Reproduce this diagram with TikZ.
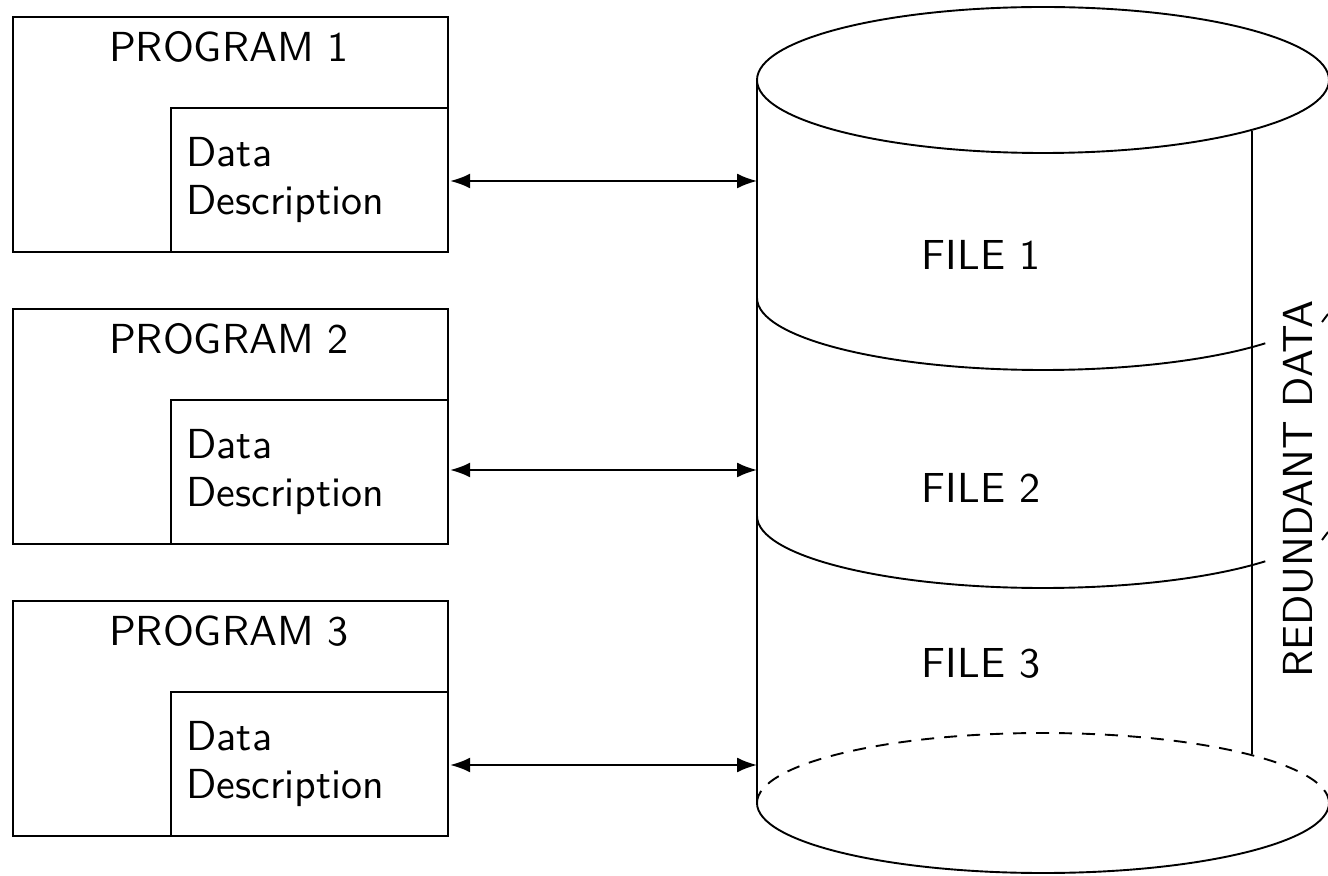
\documentclass[tikz,border=0pt]{standalone}
\usepackage{fontspec}
\setsansfont{lmsans10-regular.otf}
\usetikzlibrary{arrows.meta}
\begin{document}
\begin{tikzpicture}[x=0.5pt,y=-0.5pt,
  progbox/.style={draw, line width=1pt, minimum width=217.5pt, minimum height=117.5pt, inner sep=0pt, anchor=north west},
  descbox/.style={draw, line width=1pt, minimum width=138.5pt, minimum height=72pt, inner sep=0pt, anchor=north west},
  lbl/.style={font=\sffamily\fontsize{21}{24}\selectfont, inner sep=0pt},
  link/.style={line width=1pt, {Latex[length=10pt,width=7.5pt]}-{Latex[length=10pt,width=7.5pt]}, shorten <=0.6pt},
  cyl/.style={line width=0.95pt},
]
\useasboundingbox (0,0) rectangle (1328,876);
\clip (0,0) rectangle (1328,876);

% programs
\node[progbox] (p1) at (12,16) {};
\node[descbox] (d1) at (170,107) {};
\node[progbox] (p2) at (12,308) {};
\node[descbox] (d2) at (170,399) {};
\node[progbox] (p3) at (12,600) {};
\node[descbox] (d3) at (170,691) {};

\node[lbl, anchor=base] (t1) at (229,62) {PROGRAM 1};
\node[lbl, anchor=base] (t2) at (229,354) {PROGRAM 2};
\node[lbl, anchor=base] (t3) at (229,646) {PROGRAM 3};

\node[lbl, anchor=north west, align=left] (x1) at (186,137) {Data\\Description};
\node[lbl, anchor=north west, align=left] (x2) at (186,429) {Data\\Description};
\node[lbl, anchor=north west, align=left] (x3) at (186,721) {Data\\Description};

% cylinder
\coordinate (topc) at (1043,80);
\coordinate (cl1) at (757,181);
\coordinate (cl2) at (757,470);
\coordinate (cl3) at (757,765);
\draw[cyl] (topc) ellipse [x radius=143pt, y radius=36.5pt];
\draw[cyl] (757,80) -- (757,803);
\draw[cyl] (1252,131) -- (1252,754);
\draw[cyl] (757,298) arc[start angle=180, end angle=321, x radius=143pt, y radius=36pt];
\draw[cyl] (757,516) arc[start angle=180, end angle=321, x radius=143pt, y radius=36pt];
\draw[cyl, dash pattern=on 6.5pt off 5pt] (757,803) arc[start angle=180, end angle=0, x radius=143pt, y radius=35pt];
\draw[cyl] (757,803) arc[start angle=180, end angle=360, x radius=143pt, y radius=35pt];
\draw[cyl] (1322,322) -- (1328,314);
\draw[cyl] (1322,540) -- (1328,532);

\node[lbl, anchor=base] (f1) at (981,270) {FILE 1};
\node[lbl, anchor=base] (f2) at (981,503) {FILE 2};
\node[lbl, anchor=base] (f3) at (981,677) {FILE 3};
\node[lbl, rotate=90, anchor=base] (rd) at (1312,489) {REDUNDANT DATA};

% connectors
\draw[link] (d1.east |- cl1) -- (cl1);
\draw[link] (d2.east |- cl2) -- (cl2);
\draw[link] (d3.east |- cl3) -- (cl3);
\end{tikzpicture}
\end{document}
